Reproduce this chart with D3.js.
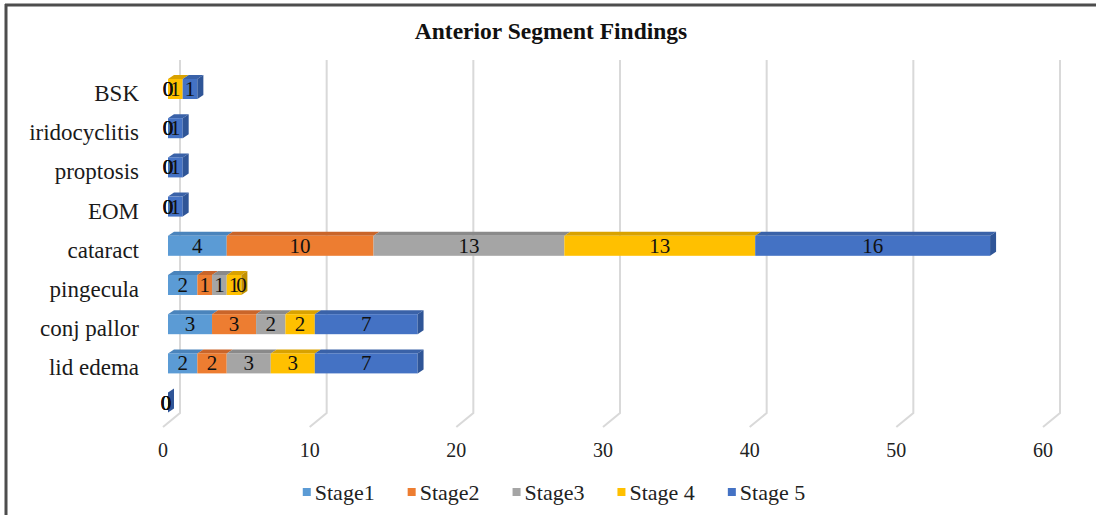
<!DOCTYPE html>
<html><head><meta charset="utf-8">
<script src="https://cdn.jsdelivr.net/npm/d3@7"></script>
<style>
html,body{margin:0;padding:0;background:#fff;}
svg{display:block;font-family:"Liberation Serif","Times New Roman",serif;}
</style></head>
<body><svg id="chart" width="1096" height="515"></svg>
<script>
const chartTitle = "Anterior Segment Findings";
const categories = ["", "lid edema", "conj pallor", "pingecula", "cataract", "EOM", "proptosis", "iridocyclitis", "BSK"];
const stage1 = [0, 2, 3, 2, 4, 0, 0, 0, 0];
const stage2 = [0, 2, 3, 1, 10, 0, 0, 0, 0];
const stage3 = [0, 3, 2, 1, 13, 0, 0, 0, 0];
const stage4 = [0, 3, 2, 1, 13, 0, 0, 0, 1];
const stage5 = [0, 7, 7, 0, 16, 1, 1, 1, 1];
const seriesNames = ["Stage1", "Stage2", "Stage3", "Stage 4", "Stage 5"];
const seriesValues = [stage1, stage2, stage3, stage4, stage5];
const tickValues = [0, 10, 20, 30, 40, 50, 60];

const colors = ["#5B9BD5", "#ED7D31", "#A5A5A5", "#FFC000", "#4472C4"];
const topColors = ["#4A84BC", "#C9652A", "#8A8A8A", "#D9A200", "#3A62A8"];
const capColors = ["#3F74A8", "#B45A24", "#7A7A7A", "#C29000", "#2F5597"];

const svg = d3.select("#chart");

// frame
svg.append("line").attr("x1",5).attr("x2",1096).attr("y1",5).attr("y2",5)
  .attr("stroke","#4d4d4d").attr("stroke-width",3);
svg.append("line").attr("x1",6).attr("x2",6).attr("y1",4).attr("y2",515)
  .attr("stroke","#4d4d4d").attr("stroke-width",3);

// title
svg.append("text").attr("x",551).attr("y",39).attr("text-anchor","middle")
  .attr("font-weight","bold").attr("font-size",23.5).attr("fill","#111")
  .text(chartTitle);

const xFront = d3.scaleLinear().domain([0,60]).range([168, 168 + 60*14.68]);
const xBack  = d3.scaleLinear().domain([0,60]).range([180, 1060]);
const xTick  = d3.scaleLinear().domain([0,60]).range([163, 1043]);
const y = d3.scalePoint().domain(categories.slice().reverse()).range([89, 402.6]);

const gridTop = 60, gridBottom = 413, floorDx = -17, floorDy = 14;

// gridlines on back wall + floor
const grid = svg.append("g");
tickValues.forEach(t => {
  grid.append("path")
    .attr("d", `M${xBack(t)},${gridTop}L${xBack(t)},${gridBottom}L${xBack(t)+floorDx},${gridBottom+floorDy}`)
    .attr("fill","none").attr("stroke","#d9d9d9").attr("stroke-width",2);
});

// tick labels
svg.append("g").selectAll("text").data(tickValues).join("text")
  .attr("x", d => xTick(d)).attr("y", 457).attr("text-anchor","middle")
  .attr("font-size",20).attr("fill","#222").text(d => d);

// category labels
svg.append("g").selectAll("text").data(categories).join("text")
  .attr("x", 139).attr("y", d => y(d) + 12).attr("text-anchor","end")
  .attr("font-size",23).attr("fill","#1a1a1a").text(d => d);

// bars
const barH = 20, ddx = 6, ddy = -4;
const bars = svg.append("g");
const labels = svg.append("g");
categories.forEach((cat, i) => {
  const cy = y(cat);
  const y0 = cy - barH/2, y1 = cy + barH/2;
  let start = 0;
  let lastIdx = 4;
  seriesValues.forEach((arr, s) => { if (arr[i] > 0) lastIdx = s; });
  const segs = [];
  seriesValues.forEach((arr, s) => {
    const v = arr[i];
    segs.push({s, v, start});
    start += v;
  });
  segs.forEach(sg => {
    if (sg.v <= 0) return;
    const xa = xFront(sg.start), xb = xFront(sg.start + sg.v);
    bars.append("path")
      .attr("d", `M${xa},${y0}L${xa+ddx},${y0+ddy}L${xb+ddx},${y0+ddy}L${xb},${y0}Z`)
      .attr("fill", topColors[sg.s]);
    bars.append("rect").attr("x", xa).attr("y", y0).attr("width", xb - xa).attr("height", barH)
      .attr("fill", colors[sg.s]);
  });
  // end cap
  const xe = xFront(start);
  bars.append("path")
    .attr("d", `M${xe},${y0}L${xe+ddx},${y0+ddy}L${xe+ddx},${y1+ddy}L${xe},${y1}Z`)
    .attr("fill", capColors[lastIdx]);
  segs.forEach(sg => {
    const lx = cat !== "" ? xFront(sg.start + sg.v/2) : xFront(sg.start) - 2;
    labels.append("text")
      .attr("x", lx).attr("y", cy + 7)
      .attr("text-anchor","middle").attr("font-size",21).attr("fill","#111")
      .text(sg.v);
  });
});

// legend
const legend = svg.append("g");
const items = [];
seriesNames.forEach((name, s) => {
  const g = legend.append("g");
  g.append("rect").attr("x", 0).attr("y", -12).attr("width", 8).attr("height", 8).attr("fill", colors[s]);
  const t = g.append("text").attr("x", 12).attr("y", 0).attr("font-size", 22).attr("fill","#222").text(name);
  const w = 12 + t.node().getComputedTextLength();
  items.push({g, w});
});
const spacing = 33;
const total = d3.sum(items, d => d.w) + spacing*(items.length-1);
let lx = 554 - total/2;
items.forEach(it => { it.g.attr("transform", `translate(${lx},500)`); lx += it.w + spacing; });
</script></body></html>
